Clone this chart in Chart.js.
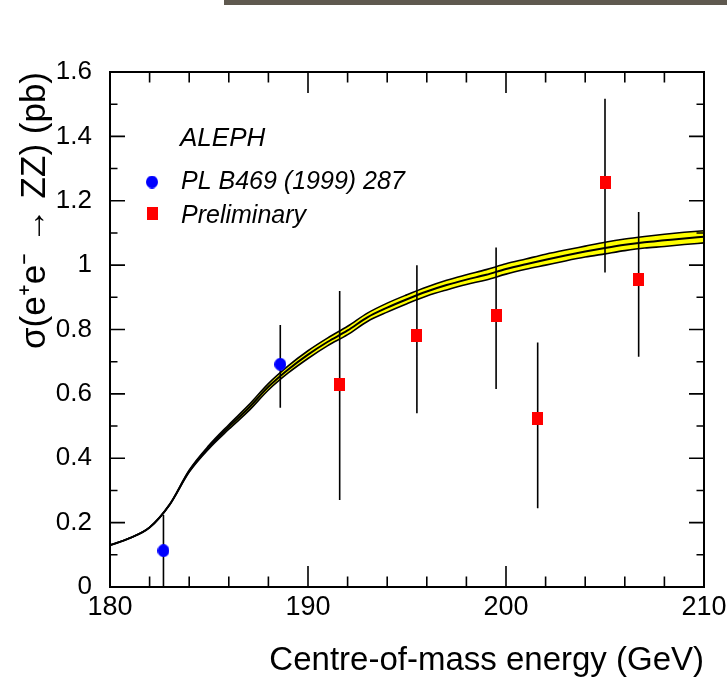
<!DOCTYPE html>
<html>
<head>
<meta charset="utf-8">
<title>ALEPH e+e- to ZZ cross section</title>
<script src="https://cdn.jsdelivr.net/npm/chart.js@4.4.0/dist/chart.umd.min.js"></script>
<style>
    html, body { margin: 0; padding: 0; background: #fff; }
    #wrap { position: relative; width: 727px; height: 698px; }
    #topbar { position: absolute; left: 224px; top: 0; width: 503px; height: 5px; background: #5f594f; }
    canvas { display: block; }
</style>
</head>
<body>
<div id="wrap">
    <div id="topbar"></div>
    <canvas id="zzChart" width="727" height="698"></canvas>
</div>
<script>
// Published ALEPH points (PL B469 (1999) 287)
const publishedEnergy = [182.7, 188.6];
const publishedSigma = [0.113, 0.692];
const publishedErrUp = [0.111, 0.122];
const publishedErrDown = [0.113, 0.135];

// Preliminary points
const prelimEnergy = [191.6, 195.5, 199.5, 201.6, 205.0, 206.7];
const prelimSigma = [0.63, 0.78, 0.845, 0.525, 1.257, 0.955];
const prelimErrUp = [0.29, 0.22, 0.21, 0.235, 0.26, 0.21];
const prelimErrDown = [0.36, 0.24, 0.23, 0.28, 0.28, 0.24];

// Standard Model expectation and its uncertainty band
const theoryEnergy = [180, 181, 182, 183, 184, 185, 186, 187, 188, 189, 190, 191, 192, 193, 194, 195,
    196, 197, 198, 199, 200, 201, 202, 203, 204, 205, 206, 207, 208, 209, 210];
const theorySigma = [0.130, 0.152, 0.185, 0.255, 0.360, 0.435, 0.497, 0.556, 0.622, 0.676, 0.722, 0.762,
    0.797, 0.838, 0.868, 0.894, 0.918, 0.938, 0.955, 0.970, 0.988, 1.003, 1.017, 1.030, 1.042, 1.053,
    1.063, 1.071, 1.077, 1.083, 1.088];
const theoryUpper = [0.130, 0.152, 0.185, 0.255, 0.363, 0.440, 0.504, 0.565, 0.632, 0.687, 0.734, 0.774,
    0.810, 0.851, 0.882, 0.908, 0.932, 0.953, 0.970, 0.986, 1.004, 1.019, 1.034, 1.047, 1.059, 1.071,
    1.081, 1.089, 1.096, 1.102, 1.107];
const theoryLower = [0.130, 0.152, 0.185, 0.255, 0.357, 0.430, 0.490, 0.547, 0.612, 0.665, 0.710, 0.750,
    0.784, 0.825, 0.854, 0.880, 0.904, 0.923, 0.940, 0.954, 0.972, 0.987, 1.000, 1.013, 1.025, 1.035,
    1.045, 1.053, 1.058, 1.064, 1.069];

const xTickLabels = ['180', '190', '200', '210'];
const yTickLabels = ['0', '0.2', '0.4', '0.6', '0.8', '1', '1.2', '1.4', '1.6'];

const FONT = '"Liberation Sans", Arial, Helvetica, sans-serif';

// small canvases used as point styles
function markerImage(shape, color, w, h) {
    const c = document.createElement('canvas');
    c.width = w;
    c.height = h;
    const g = c.getContext('2d');
    g.fillStyle = color;
    if (shape === 'circle') {
        g.beginPath();
        g.ellipse(w / 2, h / 2, w / 2, h / 2, 0, 0, Math.PI * 2);
        g.fill();
    } else {
        g.fillRect(0, 0, w, h);
    }
    return c;
}

const blueDot = markerImage('circle', '#0000ff', 12, 13);
const redSquare = markerImage('rect', '#ff0000', 11, 13);

function toPoints(xs, ys) {
    return xs.map((x, i) => ({ x: x, y: ys[i] }));
}

// vertical error bars as one broken line (null separates the bars)
function errorBarPoints(xs, ys, up, down) {
    const pts = [];
    xs.forEach((x, i) => {
        pts.push({ x: x, y: ys[i] - down[i] });
        pts.push({ x: x, y: ys[i] + up[i] });
        pts.push({ x: x, y: null });
    });
    return pts;
}

// inward ticks on all four sides plus the frame
const frameAndTicks = {
    id: 'frameAndTicks',
    afterDatasetsDraw(chart) {
        const { ctx, chartArea: a, scales: { x, y } } = chart;
        ctx.save();
        ctx.strokeStyle = '#000';
        ctx.lineWidth = 1.6;
        ctx.beginPath();
        const nx = Math.round((x.max - x.min) / 2);
        for (let i = 0; i <= nx; i++) {
            const px = x.getPixelForValue(x.min + i * 2);
            const len = i % 5 === 0 ? 21 : 10.5;
            ctx.moveTo(px, a.bottom);
            ctx.lineTo(px, a.bottom - len);
            ctx.moveTo(px, a.top);
            ctx.lineTo(px, a.top + len);
        }
        const ny = Math.round((y.max - y.min) / 0.1);
        for (let i = 0; i <= ny; i++) {
            const py = y.getPixelForValue(y.min + i * 0.1);
            const len = i % 2 === 0 ? 15 : 7.5;
            ctx.moveTo(a.left, py);
            ctx.lineTo(a.left + len, py);
            ctx.moveTo(a.right, py);
            ctx.lineTo(a.right - len, py);
        }
        ctx.stroke();
        ctx.lineWidth = 2;
        ctx.strokeRect(a.left, a.top, a.right - a.left, a.bottom - a.top);
        ctx.restore();
    }
};

// legend block in the top-left corner of the plot
const alephLegend = {
    id: 'alephLegend',
    afterDraw(chart) {
        const ctx = chart.ctx;
        ctx.save();
        ctx.fillStyle = '#000';
        ctx.textBaseline = 'alphabetic';
        ctx.font = 'italic 26px ' + FONT;
        ctx.fillText('ALEPH', 180, 146);
        ctx.font = 'italic 25px ' + FONT;
        const rows = [{ marker: 182, text: 189 }, { marker: 213, text: 223 }];
        chart.data.datasets.filter(d => d.inLegend).forEach((ds, i) => {
            const img = ds.pointStyle;
            ctx.drawImage(img, 152 - img.width / 2, rows[i].marker - img.height / 2);
            ctx.fillText(ds.label, 181, rows[i].text);
        });
        ctx.restore();
    }
};

const ctx = document.getElementById('zzChart').getContext('2d');
new Chart(ctx, {
    type: 'scatter',
    data: {
        datasets: [
            {
                type: 'line',
                label: 'SM lower',
                data: toPoints(theoryEnergy, theoryLower),
                borderColor: '#000',
                borderWidth: 1.6,
                pointRadius: 0,
                cubicInterpolationMode: 'monotone',
                fill: false,
                order: 3
            },
            {
                type: 'line',
                label: 'SM upper',
                data: toPoints(theoryEnergy, theoryUpper),
                borderColor: '#000',
                borderWidth: 1.6,
                backgroundColor: '#ffff00',
                pointRadius: 0,
                cubicInterpolationMode: 'monotone',
                fill: '-1',
                order: 3
            },
            {
                type: 'line',
                label: 'SM',
                data: toPoints(theoryEnergy, theorySigma),
                borderColor: '#000',
                borderWidth: 2,
                pointRadius: 0,
                cubicInterpolationMode: 'monotone',
                fill: false,
                order: 3
            },
            {
                type: 'line',
                label: 'errors',
                data: errorBarPoints(publishedEnergy.concat(prelimEnergy),
                    publishedSigma.concat(prelimSigma),
                    publishedErrUp.concat(prelimErrUp),
                    publishedErrDown.concat(prelimErrDown)),
                borderColor: '#000',
                borderWidth: 1.6,
                pointRadius: 0,
                spanGaps: false,
                fill: false,
                order: 2
            },
            {
                label: 'PL B469 (1999) 287',
                data: toPoints(publishedEnergy, publishedSigma),
                pointStyle: blueDot,
                inLegend: true,
                order: 1
            },
            {
                label: 'Preliminary',
                data: toPoints(prelimEnergy, prelimSigma),
                pointStyle: redSquare,
                inLegend: true,
                order: 1
            }
        ]
    },
    options: {
        responsive: false,
        animation: false,
        events: [],
        layout: { padding: { top: 72, right: 23, left: 0, bottom: 0 } },
        plugins: {
            legend: { display: false },
            tooltip: { enabled: false },
            filler: { drawTime: 'beforeDatasetsDraw' }
        },
        scales: {
            x: {
                type: 'linear',
                min: 180,
                max: 210,
                border: { display: false },
                grid: { display: false, drawTicks: false },
                ticks: {
                    stepSize: 10,
                    padding: 4,
                    color: '#000',
                    font: { family: FONT, size: 27 },
                    maxRotation: 0,
                    callback: (value, index) => xTickLabels[index]
                },
                title: {
                    display: true,
                    text: 'Centre-of-mass energy (GeV)',
                    align: 'end',
                    color: '#000',
                    font: { family: FONT, size: 33 },
                    padding: { top: 0, bottom: 17 }
                },
                afterFit: scale => {
                    scale.height = 111;
                    scale.paddingLeft = 0;
                    scale.paddingRight = 0;
                }
            },
            y: {
                type: 'linear',
                min: 0,
                max: 1.6,
                border: { display: false },
                grid: { display: false, drawTicks: false },
                ticks: {
                    stepSize: 0.2,
                    padding: 18,
                    color: '#000',
                    font: { family: FONT, size: 26 },
                    callback: (value, index) => yTickLabels[index]
                },
                title: {
                    display: true,
                    text: 'σ(e⁺e⁻ → ZZ) (pb)',
                    align: 'end',
                    color: '#000',
                    font: { family: FONT, size: 35 },
                    padding: { top: 14, bottom: 0 }
                },
                afterFit: scale => {
                    scale.width = 110;
                    scale.paddingTop = 0;
                    scale.paddingBottom = 0;
                }
            }
        }
    },
    plugins: [frameAndTicks, alephLegend]
});
</script>
</body>
</html>
